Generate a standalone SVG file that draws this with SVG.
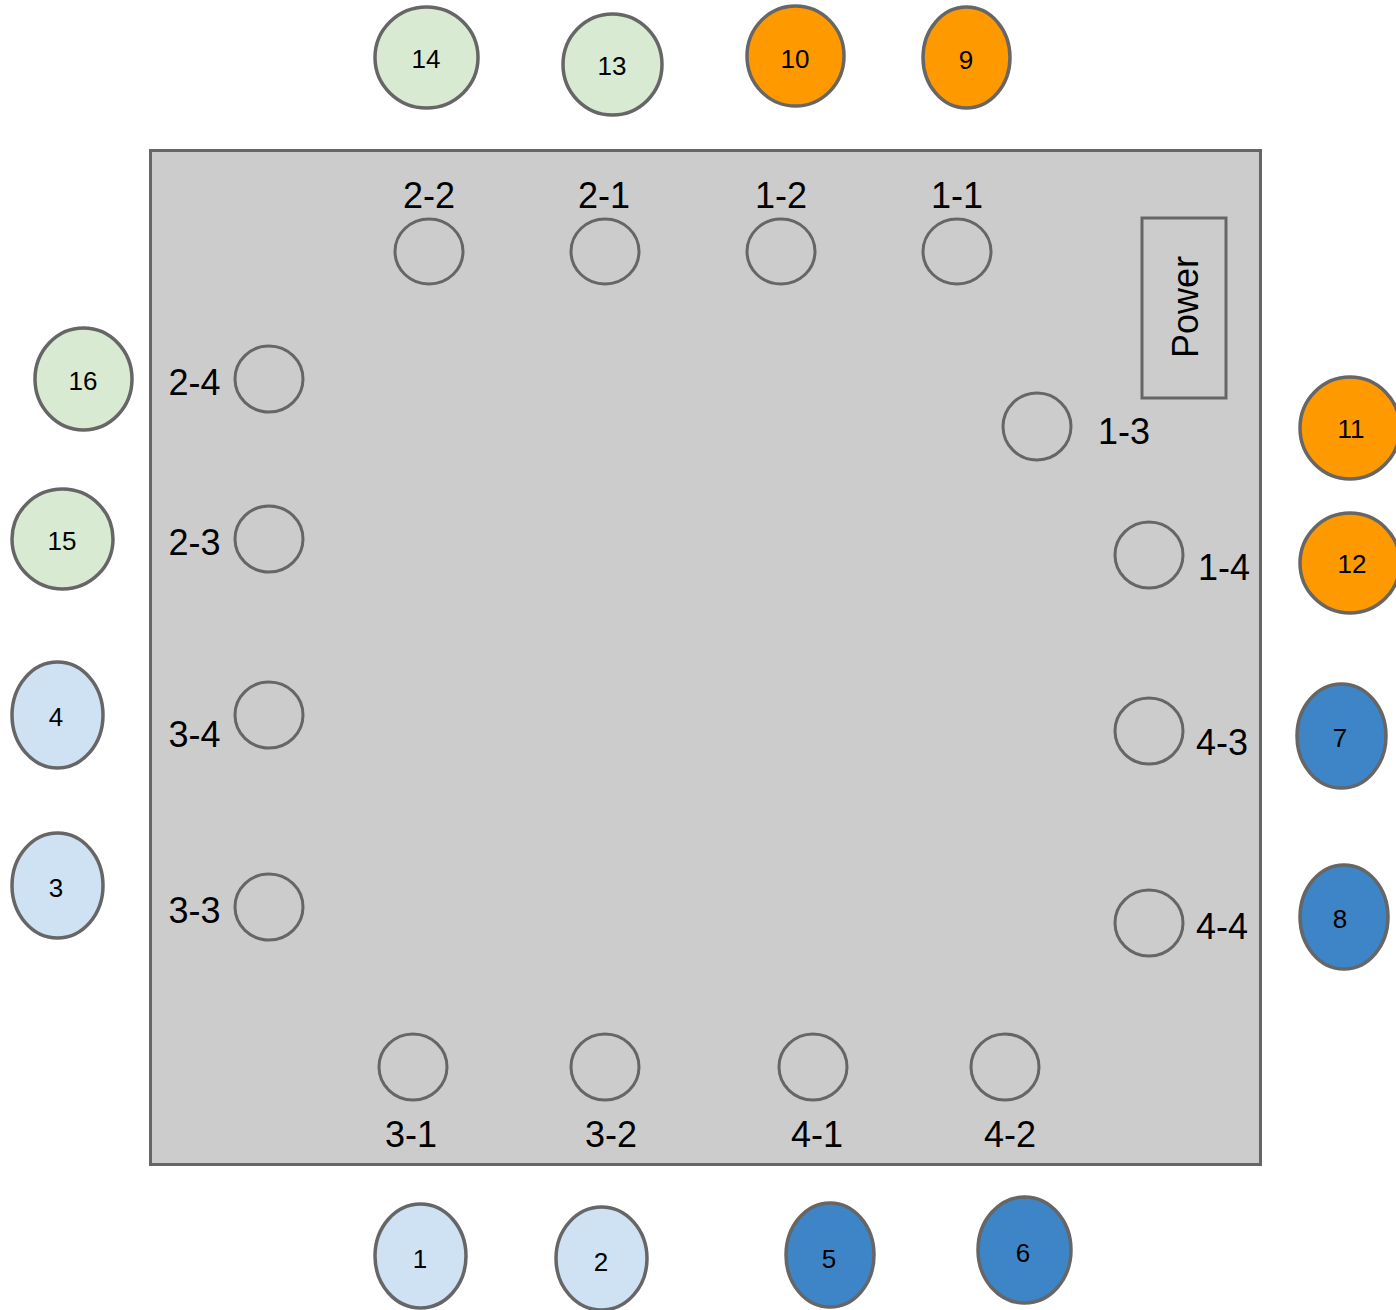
<svg xmlns="http://www.w3.org/2000/svg" width="1396" height="1310" viewBox="0 0 1396 1310">
<style>
.box{fill:#cccccc;stroke:#666666;stroke-width:3}
.hole{fill:none;stroke:#666666;stroke-width:3}
.out{stroke:#666666;stroke-width:3.5}
.g{fill:#d9ead3}.lb{fill:#cfe2f3}.o{fill:#ff9900}.b{fill:#3d85c6}
.lbl{font-family:"Liberation Sans",Arial,sans-serif;font-size:36px;fill:#000;text-anchor:middle}
.num{font-family:"Liberation Sans",Arial,sans-serif;font-size:26px;fill:#000;text-anchor:middle}
</style>
<rect width="1396" height="1310" fill="#ffffff"/>
<g id="board">
<rect class="box" x="150.5" y="150.5" width="1110" height="1014"/>
</g>
<g id="power">
<rect class="hole" x="1142" y="218" width="84" height="180"/>
<text class="lbl" transform="translate(1198,307) rotate(-90)">Power</text>
</g>
<g id="socket-2-2"><ellipse class="hole" cx="429" cy="251.5" rx="34" ry="32.5"/><text class="lbl" x="429" y="208">2-2</text></g>
<g id="socket-2-1"><ellipse class="hole" cx="605" cy="251.5" rx="34" ry="32.5"/><text class="lbl" x="604" y="208">2-1</text></g>
<g id="socket-1-2"><ellipse class="hole" cx="781" cy="251.5" rx="34" ry="32.5"/><text class="lbl" x="781" y="208">1-2</text></g>
<g id="socket-1-1"><ellipse class="hole" cx="957" cy="251.5" rx="34" ry="32.5"/><text class="lbl" x="957" y="208">1-1</text></g>
<g id="socket-2-4"><ellipse class="hole" cx="269" cy="379" rx="34" ry="33"/><text class="lbl" x="194.5" y="395">2-4</text></g>
<g id="socket-2-3"><ellipse class="hole" cx="269" cy="539" rx="34" ry="33"/><text class="lbl" x="194.5" y="555">2-3</text></g>
<g id="socket-3-4"><ellipse class="hole" cx="269" cy="715" rx="34" ry="33"/><text class="lbl" x="194.5" y="747">3-4</text></g>
<g id="socket-3-3"><ellipse class="hole" cx="269" cy="907" rx="34" ry="33"/><text class="lbl" x="194.5" y="923">3-3</text></g>
<g id="socket-1-3"><ellipse class="hole" cx="1037" cy="426.5" rx="34" ry="33.5"/><text class="lbl" x="1124" y="444">1-3</text></g>
<g id="socket-1-4"><ellipse class="hole" cx="1149" cy="555" rx="34" ry="33"/><text class="lbl" x="1224" y="580">1-4</text></g>
<g id="socket-4-3"><ellipse class="hole" cx="1149" cy="731" rx="34" ry="33"/><text class="lbl" x="1222" y="755">4-3</text></g>
<g id="socket-4-4"><ellipse class="hole" cx="1149" cy="923" rx="34" ry="33"/><text class="lbl" x="1222" y="939">4-4</text></g>
<g id="socket-3-1"><ellipse class="hole" cx="413" cy="1067" rx="34" ry="33"/><text class="lbl" x="411" y="1147">3-1</text></g>
<g id="socket-3-2"><ellipse class="hole" cx="605" cy="1067" rx="34" ry="33"/><text class="lbl" x="611" y="1147">3-2</text></g>
<g id="socket-4-1"><ellipse class="hole" cx="813" cy="1067" rx="34" ry="33"/><text class="lbl" x="817" y="1147">4-1</text></g>
<g id="socket-4-2"><ellipse class="hole" cx="1005" cy="1067" rx="34" ry="33"/><text class="lbl" x="1010" y="1147">4-2</text></g>
<g id="n14"><ellipse class="out g" cx="426.5" cy="57.5" rx="51.5" ry="50.5"/><text class="num" x="426" y="68">14</text></g>
<g id="n13"><ellipse class="out g" cx="612.5" cy="64.5" rx="49.5" ry="50.5"/><text class="num" x="612" y="75">13</text></g>
<g id="n10"><ellipse class="out o" cx="795.5" cy="56" rx="48.5" ry="50"/><text class="num" x="795" y="68">10</text></g>
<g id="n9"><ellipse class="out o" cx="966.5" cy="57.5" rx="43.5" ry="50.5"/><text class="num" x="966" y="69">9</text></g>
<g id="n16"><ellipse class="out g" cx="83.5" cy="379" rx="48.5" ry="51"/><text class="num" x="83" y="390">16</text></g>
<g id="n15"><ellipse class="out g" cx="62.5" cy="539" rx="50.5" ry="50"/><text class="num" x="62" y="550">15</text></g>
<g id="n4"><ellipse class="out lb" cx="57.5" cy="715" rx="45.5" ry="53"/><text class="num" x="56" y="726">4</text></g>
<g id="n3"><ellipse class="out lb" cx="57.5" cy="885.5" rx="45.5" ry="52.5"/><text class="num" x="56" y="897">3</text></g>
<g id="n11"><ellipse class="out o" cx="1350" cy="428" rx="50" ry="51"/><text class="num" x="1351" y="438">11</text></g>
<g id="n12"><ellipse class="out o" cx="1350" cy="563" rx="50" ry="50"/><text class="num" x="1352" y="573">12</text></g>
<g id="n7"><ellipse class="out b" cx="1341.5" cy="736" rx="44.5" ry="52"/><text class="num" x="1340" y="747">7</text></g>
<g id="n8"><ellipse class="out b" cx="1344" cy="917" rx="44" ry="52"/><text class="num" x="1340" y="928">8</text></g>
<g id="n1"><ellipse class="out lb" cx="420.5" cy="1256" rx="45.5" ry="52"/><text class="num" x="420" y="1268">1</text></g>
<g id="n2"><ellipse class="out lb" cx="601.5" cy="1258.5" rx="45.5" ry="51.5"/><text class="num" x="601" y="1271">2</text></g>
<g id="n5"><ellipse class="out b" cx="830" cy="1255" rx="44" ry="52"/><text class="num" x="829" y="1268">5</text></g>
<g id="n6"><ellipse class="out b" cx="1024.5" cy="1250" rx="46.5" ry="53"/><text class="num" x="1023" y="1262">6</text></g>
<g id="connectors"></g>
</svg>
